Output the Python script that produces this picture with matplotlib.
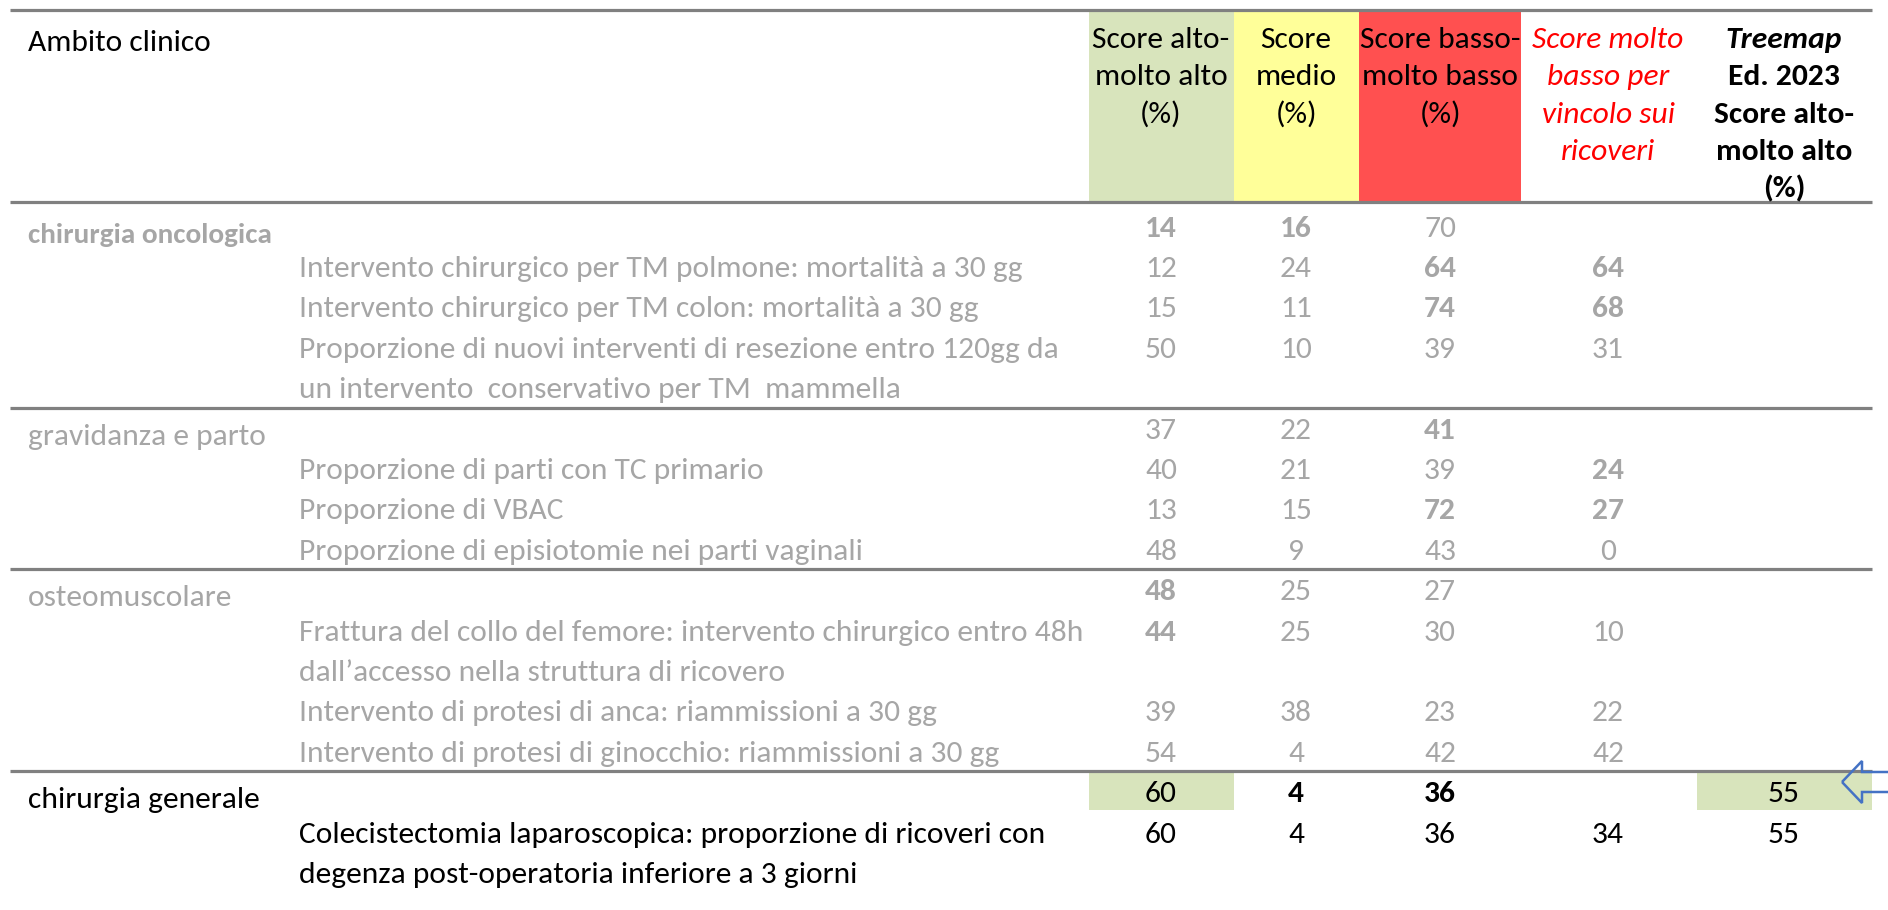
import matplotlib
matplotlib.use("Agg")
import matplotlib.pyplot as plt
from matplotlib import font_manager as fm
from matplotlib.patches import Rectangle, Polygon

# ---------------- data ----------------
corner_title = "Ambito clinico"
col_headers = [
    ["Score alto-", "molto alto", "(%)"],
    ["Score", "medio", "(%)"],
    ["Score basso-", "molto basso", "(%)"],
    ["Score molto", "basso per", "vincolo sui", "ricoveri"],
    ["Treemap", "Ed. 2023", "Score alto-", "molto alto", "(%)"],
]
row_labels = [
    "chirurgia oncologica",
    "Intervento chirurgico per TM polmone: mortalità a 30 gg",
    "Intervento chirurgico per TM colon: mortalità a 30 gg",
    "Proporzione di nuovi interventi di resezione entro 120gg da\nun intervento  conservativo per TM  mammella",
    "gravidanza e parto",
    "Proporzione di parti con TC primario",
    "Proporzione di VBAC",
    "Proporzione di episiotomie nei parti vaginali",
    "osteomuscolare",
    "Frattura del collo del femore: intervento chirurgico entro 48h\ndall\u2019accesso nella struttura di ricovero",
    "Intervento di protesi di anca: riammissioni a 30 gg",
    "Intervento di protesi di ginocchio: riammissioni a 30 gg",
    "chirurgia generale",
    "Colecistectomia laparoscopica: proporzione di ricoveri con\ndegenza post-operatoria inferiore a 3 giorni",
]
is_category = [True, False, False, False, True, False, False, False,
               True, False, False, False, True, False]
score_alto = [14, 12, 15, 50, 37, 40, 13, 48, 48, 44, 39, 54, 60, 60]
score_medio = [16, 24, 11, 10, 22, 21, 15, 9, 25, 25, 38, 4, 4, 4]
score_basso = [70, 64, 74, 39, 41, 39, 72, 43, 27, 30, 23, 42, 36, 36]
score_vincolo = [None, 64, 68, 31, None, 24, 27, 0, None, 10, 22, 42, None, 34]
treemap_2023 = [None] * 12 + [55, 55]

# ---------------- styles ----------------
bold_cells = {(0, 0), (0, 1), (1, 2), (1, 3), (2, 2), (2, 3), (4, 2), (5, 3),
              (6, 2), (6, 3), (8, 0), (9, 0), (12, 1), (12, 2)}
bold_labels = {0}
black_rows = {12, 13}
separators_after = [3, 7, 11]
highlight_cells = [(12, 0), (12, 4)]

GRAY = "#a6a6a6"
LINE = "#808080"
GREEN = "#d8e4bc"
YELLOW = "#ffff99"
RED = "#ff5050"

def pick(names):
    avail = {f.name for f in fm.fontManager.ttflist}
    for n in names:
        if n in avail:
            return n
    return "DejaVu Sans"

FONT = pick(["Carlito", "Calibri", "Lato", "Open Sans", "Liberation Sans"])
plt.rcParams["font.family"] = [FONT, "DejaVu Sans"]

W, H = 1888, 910
fig = plt.figure(figsize=(W / 100, H / 100), dpi=100)
ax = fig.add_axes([0, 0, 1, 1])
ax.set_xlim(0, W)
ax.set_ylim(H, 0)
ax.axis("off")

r = fig.canvas.get_renderer()

def fit_size(text, target, weight):
    t = ax.text(0, 0, text, fontsize=20, fontweight=weight)
    w = t.get_window_extent(r).width
    t.remove()
    return 20 * target / w

# fit font size to the reference text width
FS = fit_size(row_labels[1], 722, "light")
FS_CAT_BOLD = 0.93 * FS
em = FS * 100 / 72
cap = 0.68 * em

# layout
col_x = [1161, 1296, 1440, 1608, 1784]
col_bounds = [(1089, 1234), (1234, 1359), (1359, 1521), (1521, 1697), (1697, 1872)]
header_fill = [GREEN, YELLOW, RED, None, None]
x_left, x_right = 10, 1872
x_cat, x_sub = 28, 299
top_y, head_bottom = 10, 202
line0, pitch = 226, 40.4
cat_dy = 6
corner_y = 40
hdr0, hpitch = 37, 37.5

# header backgrounds
for (a, b), c in zip(col_bounds, header_fill):
    if c:
        ax.add_patch(Rectangle((a, top_y), b - a, head_bottom - top_y, color=c, lw=0, zorder=1))

# header texts
ax.text(x_cat, corner_y + cap / 2, corner_title, fontsize=FS, va="baseline", ha="left", color="black", zorder=3)
for ci, lines in enumerate(col_headers):
    for li, s in enumerate(lines):
        kw = dict(fontsize=FS, va="baseline", ha="center", zorder=3, color="black")
        if ci == 3:
            kw.update(color="#ff0000", style="italic")
        if ci == 4:
            kw.update(fontweight="bold")
            if li == 0:
                kw.update(style="italic")
        ax.text(col_x[ci], hdr0 + li * hpitch + cap / 2, s, **kw)

# row line positions
row_line = []
k = 0
for lab in row_labels:
    row_line.append(k)
    k += lab.count("\n") + 1
ys = [line0 + pitch * kk for kk in row_line]

# separators
sep_y = [head_bottom]
for ri in separators_after:
    kk = row_line[ri + 1]
    sep_y.append(line0 + pitch * (kk - 0.5))

# highlighted cells
for ri, ci in highlight_cells:
    kk = row_line[ri]
    y0 = line0 + pitch * (kk - 0.5)
    a, b = col_bounds[ci]
    ax.add_patch(Rectangle((a, y0), b - a, 39, color=GREEN, lw=0, zorder=1))

# rows
series = [score_alto, score_medio, score_basso, score_vincolo, treemap_2023]
for ri, lab in enumerate(row_labels):
    color = "black" if ri in black_rows else GRAY
    y = ys[ri]
    if is_category[ri]:
        x, ly = x_cat, y + cat_dy
    else:
        x, ly = x_sub, y
    bold = ri in bold_labels
    for li, part in enumerate(lab.split("\n")):
        ax.text(x, ly + li * pitch + cap / 2, part,
                fontsize=FS_CAT_BOLD if bold else FS, va="baseline", ha="left",
                color=color, fontweight="bold" if bold else "light", zorder=3)
    for ci, ser in enumerate(series):
        v = ser[ri]
        if v is None:
            continue
        ax.text(col_x[ci], y + cap / 2, str(v), fontsize=FS, va="baseline", ha="center",
                color=color, fontweight="bold" if (ri, ci) in bold_cells else "light", zorder=3)

# horizontal rules
for yy in [top_y] + sep_y:
    ax.plot([x_left, x_right], [yy, yy], color=LINE, lw=2.3, solid_capstyle="butt", zorder=2)

# arrow (outline only)
ay = 782
arrow = Polygon([(1842, ay), (1862, ay - 21), (1862, ay - 10), (1895, ay - 10),
                 (1895, ay + 10), (1862, ay + 10), (1862, ay + 21)],
                closed=True, fill=False, edgecolor="#4472c4", lw=1.8, zorder=4)
ax.add_patch(arrow)

fig.savefig("out.png", dpi=100)
